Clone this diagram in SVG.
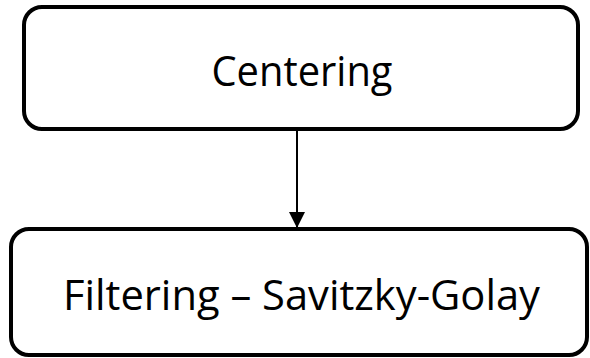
<svg xmlns="http://www.w3.org/2000/svg" width="590" height="358" viewBox="0 0 590 358">
<defs>
<style>
.box{fill:#fff;stroke:#000;stroke-width:4}
.lbl{font-family:"Open Sans","Liberation Sans",sans-serif;font-size:42px;fill:#000;text-anchor:middle}
.conn{stroke:#000;stroke-width:2;fill:none}
</style>
<marker id="arr" markerWidth="16" markerHeight="16" refX="16" refY="8" orient="auto" markerUnits="userSpaceOnUse">
<path d="M0,0 L16,8 L0,16 Z" fill="#000"/>
</marker>
</defs>
<rect width="590" height="358" fill="#fff"/>
<g id="connectors">
<line class="conn" x1="297" y1="131" x2="297" y2="228" marker-end="url(#arr)"/>
</g>
<g id="centering">
<rect class="box" x="24" y="7" width="554" height="122" rx="18"/>
<text class="lbl" x="302" y="86" textLength="181" lengthAdjust="spacingAndGlyphs">Centering</text>
</g>
<g id="filtering">
<rect class="box" x="11" y="229" width="576" height="126" rx="18"/>
<text class="lbl" x="301.5" y="310" textLength="477" lengthAdjust="spacingAndGlyphs">Filtering – Savitzky-Golay</text>
</g>
</svg>
